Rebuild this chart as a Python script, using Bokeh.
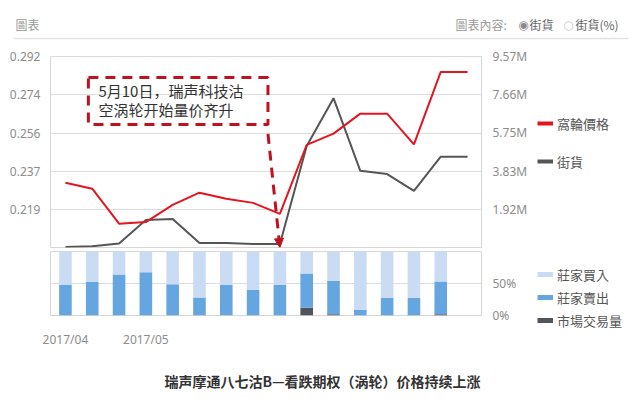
from bokeh.plotting import figure
from bokeh.models import (Range1d, LinearAxis, FixedTicker, Label, BoxAnnotation,
                          Legend, LegendItem, Arrow, NormalHead, ColumnDataSource)
from bokeh.layouts import column, row
from bokeh.embed import file_html
from bokeh.resources import INLINE

# ---------------- data ----------------
day_idx = list(range(16))
warrant_price = [0.2311, 0.2282, 0.2114, 0.2122, 0.2204, 0.2263, 0.2234, 0.2214,
                 0.2161, 0.2492, 0.2546, 0.2642, 0.2642, 0.2495, 0.2842, 0.2842]
outstanding_m = [0.03, 0.06, 0.20, 1.38, 1.43, 0.22, 0.22, 0.17,
                 0.17, 5.09, 7.48, 3.84, 3.68, 2.84, 4.55, 4.55]

bar_idx = list(range(15))
market_pct = [0, 0, 0, 0, 0, 0, 0, 0, 0, 12.3, 2.0, 0, 0, 0, 2.0]
seller_pct = [47.5, 52.5, 64.0, 67.5, 49.0, 28.3, 47.5, 39.7, 47.5, 53.5, 52.4, 8.7, 27.4, 27.4, 51.0]
buyer_pct = [52.5, 47.5, 36.0, 32.5, 51.0, 71.7, 52.5, 60.3, 52.5, 34.2, 45.6, 91.3, 72.6, 72.6, 47.0]

left_ticks = [0.2183, 0.2366, 0.2549, 0.2732, 0.2915]
left_labels = ["0.219", "0.237", "0.256", "0.274", "0.292"]
right_ticks = [1.914, 3.828, 5.742, 7.656, 9.57]
right_labels = ["1.92M", "3.83M", "5.75M", "7.66M", "9.57M"]
pct_ticks = [0, 50]
pct_labels = ["0%", "50%"]
date_ticks = [0, 3]
date_labels = ["2017/04", "2017/05"]

line_series = ["窩輪價格", "街貨"]
bar_series = ["莊家買入", "莊家賣出", "市場交易量"]

RED = "#e3161f"
GRAY = "#555555"
LIGHT = "#c9dcf4"
MID = "#66a6e0"
DARK = "#50545c"
ANN = "#bf1220"
AX = "#8c8c8c"
GRID = "#dddddd"
FONT = "Noto Sans"
CJK_TC = "Noto Sans CJK TC"
CJK_SC = "Noto Sans CJK SC"
NAN = float("nan")

W = 635


def blank_fig(w, h, x0, x1, y_top, y_bot):
    f = figure(width=w, height=h, x_range=Range1d(x0, x1), y_range=Range1d(y_bot, y_top),
               x_axis_location=None, y_axis_location=None, output_backend="svg",
               toolbar_location=None, min_border=0, outline_line_color=None)
    f.grid.grid_line_color = None
    return f


# ---------------- header ----------------
h = blank_fig(W, 44, 0, W, 0, 44)
h.add_layout(BoxAnnotation(left=13, right=628, top=37.2, bottom=38.8,
                           fill_color="#e2e2e2", fill_alpha=1, line_color=None))
hdr = [("圖表", 15, "#9a9a9a", "left", CJK_TC),
       ("圖表內容:", 455, "#9a9a9a", "left", CJK_TC),
       ("◉", 523, "#888888", "center", "DejaVu Sans"),
       ("街貨", 529, "#666666", "left", CJK_TC),
       ("○", 568, "#c8c8c8", "center", "DejaVu Sans"),
       ("街貨(%)", 575, "#666666", "left", CJK_TC)]
for txt, xx, col, al, fnt in hdr:
    h.add_layout(Label(x=xx, y=24, text=txt, text_font=fnt, text_font_size="12px",
                       text_color=col, text_align=al, text_baseline="middle"))

# ---------------- top chart ----------------
p = figure(width=530, height=205, x_range=Range1d(-0.557, 15.52),
           y_range=Range1d(0.2, 0.2916), x_axis_location=None,
           output_backend="svg", toolbar_location=None,
           min_border_left=50, min_border_right=48, min_border_top=12, min_border_bottom=2,
           outline_line_color="#d6d6d6")
p.xgrid.grid_line_color = None
p.ygrid.ticker = FixedTicker(ticks=left_ticks)
p.ygrid.grid_line_color = GRID
ya = p.yaxis[0]
ya.ticker = FixedTicker(ticks=left_ticks)
ya.major_label_overrides = {t: l for t, l in zip(left_ticks, left_labels)}

p.extra_y_ranges = {"vol": Range1d(0, 9.57)}
ra = LinearAxis(y_range_name="vol", ticker=FixedTicker(ticks=right_ticks))
ra.major_label_overrides = {t: l for t, l in zip(right_ticks, right_labels)}
p.add_layout(ra, "right")
for ax, so in [(ya, 4), (ra, 5)]:
    ax.axis_line_color = None
    ax.major_tick_line_color = None
    ax.minor_tick_line_color = None
    ax.major_label_standoff = so
    ax.major_label_text_color = AX
    ax.major_label_text_font = FONT
    ax.major_label_text_font_size = "12px"

p.line(day_idx, outstanding_m, y_range_name="vol", color=GRAY, line_width=2)
p.line(day_idx, warrant_price, color=RED, line_width=2)

# annotation box + arrow
p.add_layout(BoxAnnotation(left=0.856, right=7.555, top=0.2815, bottom=0.259,
                           fill_alpha=0, line_color=ANN, line_alpha=1, line_width=3,
                           line_dash="10 7"))
for txt, yy in [("5月10日，瑞声科技沽", 0.2753), ("空涡轮开始量价齐升", 0.2662)]:
    p.add_layout(Label(x=1.23, y=yy, text=txt, text_font=CJK_SC, text_font_size="15px",
                       text_color="#333333", text_baseline="middle"))
p.add_layout(Arrow(x_start=7.555, y_start=0.2545, x_end=8.0, y_end=0.2,
                   line_color=ANN, line_width=3, line_dash="10 7",
                   end=NormalHead(size=9, fill_color=ANN, line_color=ANN, line_width=1)))

# ---------------- bottom chart ----------------
src = ColumnDataSource(dict(x=bar_idx, market=market_pct, seller=seller_pct, buyer=buyer_pct))
q = figure(width=530, height=101, x_range=p.x_range, y_range=Range1d(0, 100),
           y_axis_location="right", output_backend="svg", toolbar_location=None,
           min_border_left=50, min_border_right=48, min_border_top=2, min_border_bottom=26,
           outline_line_color="#d6d6d6")
q.vbar_stack(["market", "seller", "buyer"], x="x", width=0.47, color=[DARK, MID, LIGHT],
             line_color=None, source=src)
q.xgrid.grid_line_color = None
q.ygrid.ticker = FixedTicker(ticks=[50])
q.ygrid.grid_line_color = GRID
qx = q.xaxis[0]
qx.ticker = FixedTicker(ticks=date_ticks)
qx.major_label_overrides = {t: l for t, l in zip(date_ticks, date_labels)}
qy = q.yaxis[0]
qy.ticker = FixedTicker(ticks=pct_ticks)
qy.major_label_overrides = {t: l for t, l in zip(pct_ticks, pct_labels)}
for ax, so in [(qx, 9), (qy, 5)]:
    ax.axis_line_color = None
    ax.major_tick_line_color = None
    ax.minor_tick_line_color = None
    ax.major_label_standoff = so
    ax.major_label_text_color = AX
    ax.major_label_text_font = FONT
    ax.major_label_text_font_size = "12px"

# ---------------- legend panel ----------------
g = blank_fig(W - 530, 306, 530, W, 44, 350)
lr = [g.line([NAN], [NAN], color=c, line_width=4) for c in (RED, GRAY)]
br = [g.line([NAN], [NAN], color=c, line_width=5) for c in (LIGHT, MID, DARK)]
common = dict(glyph_width=16, glyph_height=20, label_height=20, label_standoff=4,
              padding=0, margin=0, border_line_color=None, background_fill_alpha=0,
              label_text_font=CJK_TC, label_text_font_size="13px",
              label_text_color="#555555")
g.add_layout(Legend(items=[LegendItem(label=l, renderers=[r]) for l, r in zip(line_series, lr)],
                    location=(7, 179), spacing=18, **common), "center")
g.add_layout(Legend(items=[LegendItem(label=l, renderers=[r]) for l, r in zip(bar_series, br)],
                    location=(7, 20), spacing=3, **common), "center")

# ---------------- footer ----------------
f = blank_fig(W, 46, 0, W, 350, 396)
f.add_layout(Label(x=322, y=380, text="瑞声摩通八七沽B—看跌期权（涡轮）价格持续上涨",
                   text_font=CJK_SC, text_font_size="14px", text_font_style="bold",
                   text_color="#333333", text_align="center", text_baseline="middle"))

layout = column(h, row(column(p, q, spacing=0), g, spacing=0), f, spacing=0)
open("out.html", "w").write(file_html(layout, INLINE))
